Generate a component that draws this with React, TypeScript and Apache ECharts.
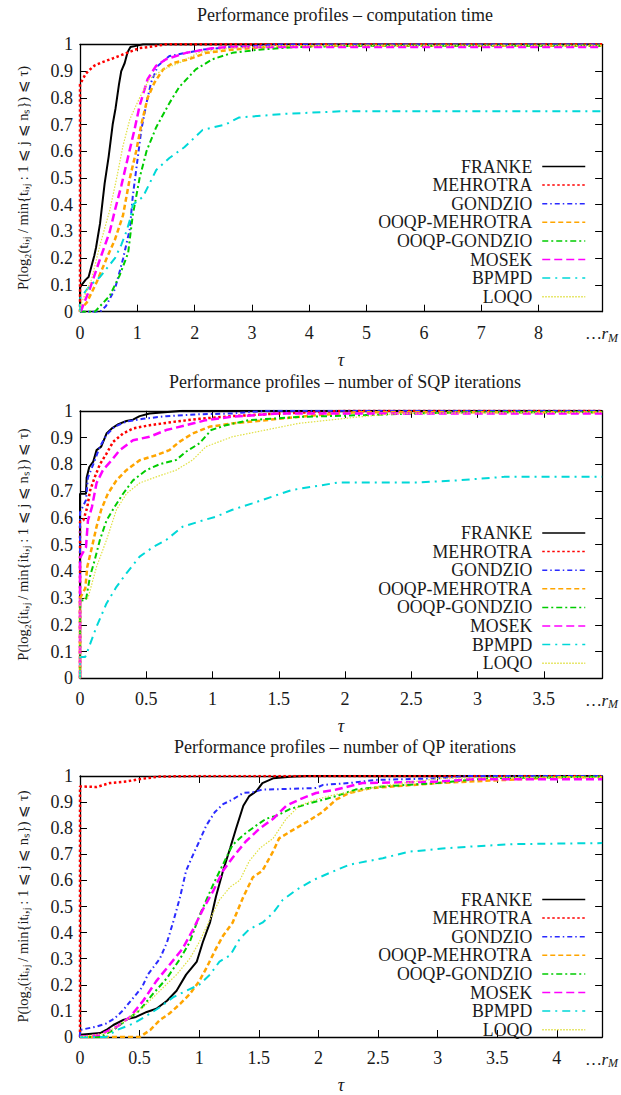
import React, { useEffect, useRef } from "react";
import * as echarts from "echarts";

// ---------- data ----------
const solvers = ["FRANKE", "MEHROTRA", "GONDZIO", "OOQP-MEHROTRA", "OOQP-GONDZIO", "MOSEK", "BPMPD", "LOQO"];
const titles = [
  "Performance profiles – computation time",
  "Performance profiles – number of SQP iterations",
  "Performance profiles – number of QP iterations",
];
const yNames = [
  "P(log₂(tᵢ,ⱼ / min{tᵢ,ⱼ : 1 ⩽ j ⩽ nₛ}) ⩽ τ)",
  "P(log₂(itᵢ,ⱼ / min{itᵢ,ⱼ : 1 ⩽ j ⩽ nₛ}) ⩽ τ)",
  "P(log₂(itᵢ,ⱼ / min{itᵢ,ⱼ : 1 ⩽ j ⩽ nₛ}) ⩽ τ)",
];
const xMax = [9.11, 3.94, 4.38];
const xTicks1 = [0, 1, 2, 3, 4, 5, 6, 7, 8];
const xTicks2 = [0, 0.5, 1, 1.5, 2, 2.5, 3, 3.5];
const xTicks3 = [0, 0.5, 1, 1.5, 2, 2.5, 3, 3.5, 4];
const yTicks = [0, 0.1, 0.2, 0.3, 0.4, 0.5, 0.6, 0.7, 0.8, 0.9, 1];
const endLabel = "…r";

// Panel 1: computation time
const franke1 = [[0,0],[0,0.09],[0.03,0.1],[0.1,0.12],[0.15,0.13],[0.2,0.17],[0.25,0.21],[0.28,0.24],[0.35,0.33],[0.43,0.48],[0.5,0.58],[0.57,0.7],[0.62,0.76],[0.68,0.85],[0.72,0.9],[0.78,0.93],[0.83,0.97],[0.88,0.99],[1.0,0.995],[1.1,1.0],[9.11,1.0]];
const mehrotra1 = [[0,0],[0,0.85],[0.05,0.87],[0.1,0.89],[0.17,0.905],[0.25,0.92],[0.35,0.93],[0.58,0.948],[0.81,0.967],[1.04,0.986],[1.2,0.99],[1.5,1.0],[9.11,1.0]];
const gondzio1 = [[0,0],[0.35,0],[0.45,0.02],[0.61,0.085],[0.75,0.197],[0.87,0.31],[0.92,0.43],[0.98,0.53],[1.07,0.68],[1.16,0.78],[1.24,0.857],[1.36,0.92],[1.56,0.956],[1.85,0.968],[2.14,0.98],[2.66,0.99],[3.2,0.995],[3.4,1.0],[9.11,1.0]];
const ooqpm1 = [[0,0],[0,0.005],[0.12,0.035],[0.29,0.11],[0.46,0.197],[0.61,0.27],[0.75,0.36],[0.87,0.5],[0.98,0.6],[1.07,0.7],[1.18,0.8],[1.3,0.857],[1.45,0.906],[1.62,0.93],[1.9,0.944],[2.2,0.968],[2.66,0.98],[3.24,0.99],[4.5,0.995],[9.11,0.995]];
const ooqpg1 = [[0,0],[0.26,0],[0.52,0.06],[0.69,0.135],[0.84,0.22],[0.92,0.36],[1.04,0.5],[1.16,0.6],[1.33,0.69],[1.56,0.78],[1.73,0.84],[2.02,0.906],[2.31,0.944],[2.66,0.968],[3.12,0.98],[3.8,0.99],[5.0,0.995],[9.11,0.995]];
const mosek1 = [[0,0],[0.03,0.01],[0.17,0.085],[0.35,0.197],[0.52,0.3],[0.61,0.38],[0.72,0.47],[0.84,0.58],[0.95,0.68],[1.04,0.77],[1.18,0.87],[1.33,0.92],[1.5,0.944],[1.85,0.968],[2.3,0.985],[2.6,0.99],[9.11,0.99]];
const bpmpd1 = [[0,0],[0,0.05],[0.06,0.066],[0.17,0.097],[0.35,0.13],[0.46,0.16],[0.61,0.2],[0.72,0.25],[0.81,0.3],[0.88,0.35],[0.92,0.4],[1.1,0.43],[1.33,0.53],[1.56,0.575],[1.82,0.615],[2.14,0.68],[2.54,0.7],[2.77,0.726],[3.58,0.74],[4.6,0.75],[9.11,0.75]];
const loqo1 = [[0,0],[0,0.02],[0.2,0.12],[0.35,0.25],[0.52,0.38],[0.64,0.5],[0.75,0.62],[0.87,0.72],[1.04,0.8],[1.21,0.87],[1.45,0.906],[1.73,0.93],[2.08,0.97],[2.6,0.985],[3.5,0.995],[9.11,0.995]];

// Panel 2: SQP iterations
const franke2 = [[0,0],[0,0.69],[0.045,0.69],[0.05,0.75],[0.07,0.79],[0.1,0.81],[0.125,0.853],[0.16,0.866],[0.2,0.915],[0.24,0.934],[0.29,0.95],[0.35,0.962],[0.4,0.967],[0.45,0.98],[0.525,0.99],[0.775,1.0],[3.94,1.0]];
const mehrotra2 = [[0,0],[0,0.585],[0.025,0.59],[0.055,0.64],[0.075,0.7],[0.11,0.75],[0.15,0.8],[0.2,0.84],[0.25,0.884],[0.325,0.915],[0.4,0.934],[0.525,0.946],[0.725,0.96],[0.9,0.97],[1.15,0.98],[1.5,0.99],[2.0,1.0],[3.94,1.0]];
const gondzio2 = [[0,0],[0,0.62],[0.045,0.666],[0.06,0.75],[0.1,0.8],[0.15,0.866],[0.2,0.91],[0.26,0.94],[0.35,0.96],[0.475,0.97],[0.65,0.98],[0.9,0.987],[1.15,0.99],[1.4,1.0],[3.94,1.0]];
const ooqpm2 = [[0,0],[0,0.3],[0.04,0.336],[0.055,0.417],[0.09,0.49],[0.125,0.567],[0.16,0.63],[0.21,0.69],[0.275,0.74],[0.35,0.778],[0.45,0.815],[0.575,0.834],[0.675,0.853],[0.75,0.884],[0.85,0.915],[0.975,0.94],[1.15,0.953],[1.4,0.965],[1.7,0.98],[2.1,0.995],[3.94,0.995]];
const ooqpg2 = [[0,0],[0,0.29],[0.045,0.293],[0.075,0.38],[0.11,0.44],[0.15,0.517],[0.2,0.59],[0.26,0.64],[0.325,0.69],[0.4,0.74],[0.5,0.778],[0.6,0.8],[0.725,0.816],[0.8,0.847],[0.9,0.878],[0.99,0.928],[1.1,0.946],[1.275,0.965],[1.65,0.977],[2.15,0.984],[2.52,0.99],[3.0,0.995],[3.94,0.995]];
const mosek2 = [[0,0],[0,0.45],[0.045,0.49],[0.06,0.59],[0.09,0.64],[0.125,0.73],[0.175,0.78],[0.24,0.816],[0.3,0.853],[0.4,0.89],[0.525,0.903],[0.65,0.928],[0.8,0.946],[0.95,0.965],[1.15,0.978],[1.5,0.99],[3.94,0.99]];
const bpmpd2 = [[0,0],[0,0.08],[0.04,0.08],[0.06,0.106],[0.125,0.193],[0.2,0.28],[0.275,0.342],[0.35,0.392],[0.45,0.455],[0.55,0.49],[0.65,0.517],[0.775,0.567],[0.925,0.59],[1.025,0.604],[1.15,0.63],[1.3,0.654],[1.45,0.679],[1.6,0.704],[1.825,0.722],[1.95,0.732],[2.55,0.732],[2.85,0.74],[3.2,0.753],[3.94,0.753]];
const loqo2 = [[0,0],[0,0.3],[0.06,0.3],[0.125,0.417],[0.2,0.517],[0.275,0.63],[0.35,0.69],[0.45,0.73],[0.575,0.753],[0.725,0.778],[0.85,0.816],[0.95,0.866],[1.15,0.903],[1.4,0.928],[1.65,0.953],[2.1,0.977],[2.4,0.99],[3.94,0.995]];

// Panel 3: QP iterations
const franke3 = [[0,0],[0,0.009],[0.17,0.015],[0.22,0.027],[0.28,0.046],[0.36,0.065],[0.47,0.077],[0.56,0.096],[0.64,0.108],[0.73,0.139],[0.81,0.177],[0.89,0.239],[0.98,0.289],[1.03,0.363],[1.09,0.438],[1.14,0.537],[1.2,0.637],[1.26,0.724],[1.31,0.8],[1.37,0.886],[1.42,0.923],[1.48,0.942],[1.53,0.973],[1.62,0.991],[1.79,0.998],[1.9,1.0],[4.38,1.0]];
const mehrotra3 = [[0,0],[0,0.96],[0.14,0.958],[0.25,0.973],[0.39,0.979],[0.5,0.988],[0.67,0.998],[1.0,1.0],[4.38,1.0]];
const gondzio3 = [[0,0],[0,0.027],[0.14,0.04],[0.22,0.052],[0.29,0.071],[0.36,0.102],[0.45,0.152],[0.52,0.19],[0.57,0.24],[0.63,0.276],[0.67,0.3],[0.73,0.363],[0.78,0.438],[0.84,0.537],[0.89,0.637],[0.95,0.7],[1.0,0.749],[1.06,0.811],[1.13,0.861],[1.2,0.892],[1.28,0.91],[1.37,0.935],[1.45,0.938],[1.53,0.948],[1.7,0.95],[1.98,0.954],[2.04,0.966],[2.26,0.973],[2.48,0.985],[3.0,0.991],[3.24,1.0],[4.38,1.0]];
const ooqpm3 = [[0,0],[0.5,0],[0.59,0.027],[0.67,0.065],[0.75,0.09],[0.84,0.127],[0.92,0.164],[1.0,0.214],[1.06,0.264],[1.14,0.338],[1.2,0.388],[1.28,0.438],[1.37,0.537],[1.45,0.612],[1.53,0.637],[1.62,0.711],[1.67,0.761],[1.76,0.786],[1.9,0.823],[2.03,0.861],[2.15,0.91],[2.26,0.935],[2.43,0.953],[3.0,0.973],[3.57,0.985],[4.0,0.995],[4.38,0.995]];
const ooqpg3 = [[0,0],[0.17,0],[0.28,0.027],[0.39,0.065],[0.5,0.102],[0.61,0.164],[0.73,0.226],[0.84,0.3],[0.92,0.363],[1.0,0.463],[1.12,0.587],[1.2,0.662],[1.28,0.736],[1.37,0.774],[1.48,0.811],[1.56,0.836],[1.65,0.848],[1.76,0.873],[1.9,0.892],[2.15,0.923],[2.31,0.948],[2.54,0.96],[3.0,0.973],[3.4,0.991],[4.38,0.998]];
const mosek3 = [[0,0],[0.17,0.009],[0.31,0.04],[0.42,0.077],[0.53,0.139],[0.64,0.214],[0.75,0.276],[0.86,0.338],[0.95,0.413],[1.03,0.488],[1.12,0.562],[1.2,0.637],[1.28,0.687],[1.39,0.749],[1.51,0.8],[1.62,0.836],[1.73,0.886],[1.84,0.91],[1.98,0.935],[2.15,0.948],[2.37,0.973],[3.0,0.979],[3.3,0.988],[4.38,0.988]];
const bpmpd3 = [[0,0],[0.22,0],[0.31,0.027],[0.45,0.052],[0.59,0.09],[0.67,0.114],[0.78,0.152],[0.89,0.177],[1.0,0.2],[1.09,0.239],[1.17,0.289],[1.26,0.313],[1.34,0.376],[1.42,0.413],[1.53,0.438],[1.62,0.475],[1.7,0.525],[1.81,0.562],[1.95,0.6],[2.1,0.63],[2.26,0.66],[2.54,0.685],[2.76,0.71],[3.04,0.722],[3.29,0.73],[3.63,0.739],[4.38,0.743]];
const loqo3 = [[0,0],[0.22,0.015],[0.39,0.065],[0.53,0.114],[0.67,0.177],[0.81,0.239],[0.92,0.3],[1.0,0.363],[1.09,0.45],[1.17,0.525],[1.26,0.575],[1.34,0.6],[1.42,0.674],[1.51,0.724],[1.62,0.761],[1.73,0.836],[1.84,0.886],[1.98,0.91],[2.15,0.93],[2.31,0.94],[2.5,0.96],[3.0,0.99],[3.5,0.995],[4.38,0.995]];

const panelData = [
  [franke1, mehrotra1, gondzio1, ooqpm1, ooqpg1, mosek1, bpmpd1, loqo1],
  [franke2, mehrotra2, gondzio2, ooqpm2, ooqpg2, mosek2, bpmpd2, loqo2],
  [franke3, mehrotra3, gondzio3, ooqpm3, ooqpg3, mosek3, bpmpd3, loqo3],
];
const xTickSets = [xTicks1, xTicks2, xTicks3];

// ---------- styles ----------
const FONT = "Liberation Serif";
const TXT = "#1a1a1a";
const styles = [
  { color: "#000000", width: 2, type: "solid" as any },
  { color: "#ff0000", width: 2.5, type: [2.5, 2.5] },
  { color: "#2a2aff", width: 2, type: [5, 3, 1.5, 3] },
  { color: "#ffa500", width: 2.5, type: [5, 3] },
  { color: "#00cc00", width: 2, type: [6, 3, 2, 3] },
  { color: "#ff00ff", width: 2.5, type: [8, 4] },
  { color: "#00d8d8", width: 2, type: [8, 5, 2, 5] },
  { color: "#e0e040", width: 1.2, type: [1.5, 1.5] },
];
const gridTops = [44.3, 410.8, 776];
const gridHeights = [267.4, 267.5, 268];

export default function App() {
  const ref = useRef<HTMLDivElement>(null);
  useEffect(() => {
    if (!ref.current) return;
    const chart = echarts.init(ref.current, null, { renderer: "svg" });
    const grids = gridTops.map((t, i) => ({ left: 80, right: 17, top: t, height: gridHeights[i] }));
    const xAxes: any[] = [];
    const yAxes: any[] = [];
    const axisLine = { show: true, onZero: false, lineStyle: { color: "#000", width: 1.3 } };
    for (let i = 0; i < 3; i++) {
      const mx = xMax[i];
      xAxes.push({
        type: "value", gridIndex: i, min: 0, max: mx, position: "bottom",
        axisLine,
        axisTick: { show: true, inside: true, length: 7, customValues: xTickSets[i], lineStyle: { color: "#000", width: 1 } },
        axisLabel: {
          customValues: [...xTickSets[i], mx], margin: 12, color: TXT, fontFamily: FONT, fontSize: 18,
          formatter: (v: number) => (v === mx ? `{e|${endLabel}}{s|M}` : String(v)),
          rich: {
            e: { fontFamily: FONT, fontSize: 17, fontStyle: "italic", color: TXT },
            s: { fontFamily: FONT, fontSize: 12, fontStyle: "italic", color: TXT, padding: [8, 0, 0, 0] },
          },
        },
        splitLine: { show: false },
        name: "τ", nameLocation: "middle", nameGap: 39,
        nameTextStyle: { fontFamily: FONT, fontSize: 18, fontStyle: "italic", color: TXT },
      });
      yAxes.push({
        type: "value", gridIndex: i, min: 0, max: 1, position: "left",
        axisLine,
        axisTick: { show: true, inside: true, length: 7, customValues: yTicks, lineStyle: { color: "#000", width: 1 } },
        axisLabel: { customValues: yTicks, margin: 7, color: TXT, fontFamily: FONT, fontSize: 18,
          formatter: (v: number) => String(Math.round(v * 10) / 10) },
        splitLine: { show: false },
        name: yNames[i], nameLocation: "middle", nameGap: 50, nameRotate: 90,
        nameTextStyle: { fontFamily: FONT, fontSize: 14.5, color: TXT },
      });
    }
    for (let i = 0; i < 3; i++) {
      xAxes.push({
        type: "value", gridIndex: i, min: 0, max: xMax[i], position: "top",
        axisLine,
        axisTick: { show: true, inside: true, length: 7, customValues: xTickSets[i], lineStyle: { color: "#000", width: 1 } },
        axisLabel: { show: false }, splitLine: { show: false },
      });
      yAxes.push({
        type: "value", gridIndex: i, min: 0, max: 1, position: "right",
        axisLine,
        axisTick: { show: true, inside: true, length: 7, customValues: yTicks, lineStyle: { color: "#000", width: 1 } },
        axisLabel: { show: false }, splitLine: { show: false },
      });
    }
    const series: any[] = [];
    panelData.forEach((arr, p) => {
      arr.forEach((d, k) => {
        series.push({
          type: "line", name: solvers[k], xAxisIndex: p, yAxisIndex: p, data: d,
          symbol: "none", showSymbol: false, lineStyle: { ...styles[k] }, itemStyle: { color: styles[k].color },
          z: 2 + k, silent: true,
        });
      });
    });
    const legendTops = [157.5, 524, 890.5];
    const legends = legendTops.map((t) => ({
      orient: "vertical", align: "right", right: 35, top: t, padding: 0,
      itemWidth: 43, itemHeight: 14, itemGap: 0.6, selectedMode: false,
      itemStyle: { opacity: 0 },
      lineStyle: { width: 1.5 },
      textStyle: { fontFamily: FONT, fontSize: 17.8, color: TXT, lineHeight: 18, padding: [0, 5, 0, 0] },
      data: solvers,
    }));
    const titleOpts = titles.map((t, i) => ({
      text: t, left: 345, top: gridTops[i] - 38, textAlign: "center", padding: 0,
      textStyle: { fontFamily: FONT, fontSize: 18, fontWeight: "normal", color: TXT },
    }));
    chart.setOption({
      animation: false,
      backgroundColor: "#ffffff",
      title: titleOpts,
      grid: grids,
      xAxis: xAxes,
      yAxis: yAxes,
      legend: legends,
      series,
    });
    return () => chart.dispose();
  }, []);
  return <div ref={ref} style={{ position: "absolute", left: 0, top: 0, width: 621, height: 1095 }} />;
}
